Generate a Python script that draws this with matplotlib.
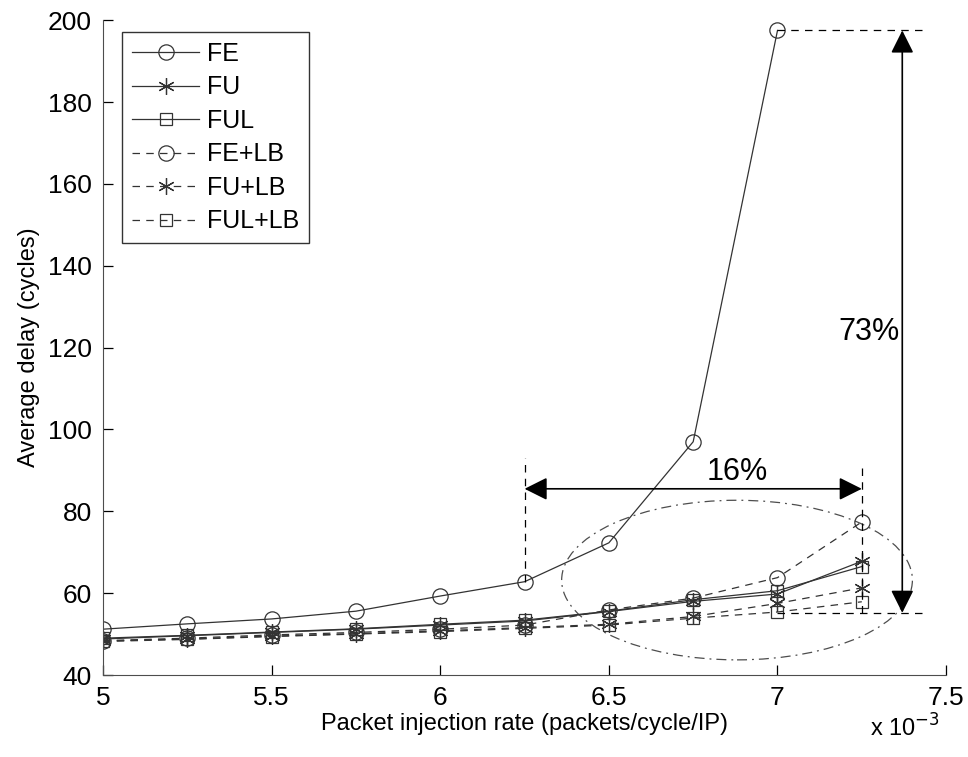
import matplotlib
matplotlib.use("Agg")
import matplotlib.pyplot as plt
from matplotlib.patches import Ellipse

plt.rcParams['font.family'] = ['Liberation Sans', 'DejaVu Sans']

# injection rate in units of 1e-3 packets/cycle/IP
rate = [5.0, 5.25, 5.5, 5.75, 6.0, 6.25, 6.5, 6.75, 7.0, 7.25]
fe = [51.2, 52.5, 53.7, 55.6, 59.3, 62.8, 72.3, 97.0, 197.5]
fu = [48.8, 49.6, 50.4, 51.2, 52.2, 53.2, 55.5, 58.0, 59.8, 67.8]
ful = [49.0, 49.7, 50.5, 51.3, 52.4, 53.4, 55.6, 58.4, 60.6, 66.5]
fe_lb = [48.4, 49.0, 49.8, 50.4, 51.2, 52.2, 55.9, 58.8, 63.8, 77.4]
fu_lb = [48.3, 48.8, 49.5, 50.1, 50.8, 51.6, 52.4, 54.3, 57.5, 61.3]
ful_lb = [48.2, 48.7, 49.4, 50.0, 50.6, 51.4, 52.2, 53.9, 55.4, 57.9]

fig = plt.figure(figsize=(9.68, 7.57), dpi=100)
ax = fig.add_axes([0.1064, 0.1083, 0.871, 0.865])

lc = '0.2'
dash = (0, (6, 5))
ast = (6, 2, 0)  # asterisk marker like matlab '*'
kw = dict(color=lc, lw=0.9, mfc='none', mec=lc, mew=0.9)
ax.plot(rate[:len(fe)], fe, '-', marker='o', ms=11, label='FE', **kw)
ax.plot(rate, fu, '-', marker=ast, ms=12, label='FU', **kw)
ax.plot(rate, ful, '-', marker='s', ms=9, label='FUL', **kw)
ax.plot(rate, fe_lb, linestyle=dash, marker='o', ms=11, label='FE+LB', **kw)
ax.plot(rate, fu_lb, linestyle=dash, marker=ast, ms=12, label='FU+LB', **kw)
ax.plot(rate, ful_lb, linestyle=dash, marker='s', ms=9, label='FUL+LB', **kw)

# annotations
ax.plot([6.25, 6.25], [fe[5], 93], color='k', lw=0.9, linestyle=dash)
ax.plot([7.25, 7.25], [ful_lb[-1] - 2.7, 91], color='k', lw=0.9, linestyle=dash)
ax.annotate('', xy=(6.25, 85.5), xytext=(7.25, 85.5),
            arrowprops=dict(arrowstyle='<|-|>,head_length=0.5,head_width=0.25',
                            color='k', lw=1.2, mutation_scale=28,
                            shrinkA=0, shrinkB=0))
ax.text(6.88, 89.5, '16%', fontsize=22, ha='center', va='center')

ax.plot([7.0, 7.445], [fe[-1], fe[-1]], color='k', lw=0.9, linestyle=dash)
ax.plot([7.0, 7.445], [55.2, 55.2], color='k', lw=0.9, linestyle=dash)
ax.annotate('', xy=(7.37, fe[-1]), xytext=(7.37, 55.2),
            arrowprops=dict(arrowstyle='<|-|>,head_length=0.5,head_width=0.25',
                            color='k', lw=1.2, mutation_scale=28,
                            shrinkA=0, shrinkB=0))
ax.text(7.27, 123.8, '73%', fontsize=22, ha='center', va='center')

ax.add_patch(Ellipse((6.88, 63.2), 1.04, 39, fill=False, ec='0.3',
                     lw=0.9, linestyle=(0, (8, 4, 1.5, 4))))

ax.set_xlim(5, 7.5)
ax.set_ylim(40, 200)
ax.set_xticks([5, 5.5, 6, 6.5, 7, 7.5])
ax.set_xticklabels(['5', '5.5', '6', '6.5', '7', '7.5'])
ax.set_yticks(range(40, 201, 20))
ax.tick_params(direction='in', length=7, labelsize=19, width=0.9, pad=8)
for s in ['top', 'right']:
    ax.spines[s].set_visible(False)
for s in ['left', 'bottom']:
    ax.spines[s].set_color('0.3')

ax.set_xlabel('Packet injection rate (packets/cycle/IP)', fontsize=17, labelpad=2)
ax.set_ylabel('Average delay (cycles)', fontsize=17, labelpad=6)
fig.text(0.935, 0.02, r'x 10$^{-3}$', fontsize=17, ha='center', va='bottom')

leg = ax.legend(loc='upper left', bbox_to_anchor=(0.0225, 0.982), fontsize=18,
                handlelength=2.7, labelspacing=0.38, borderpad=0.4,
                handletextpad=0.3, borderaxespad=0, fancybox=False,
                framealpha=1)
leg.get_frame().set_edgecolor('0.2')
leg.get_frame().set_linewidth(1.0)

fig.savefig('out.png', dpi=100)
